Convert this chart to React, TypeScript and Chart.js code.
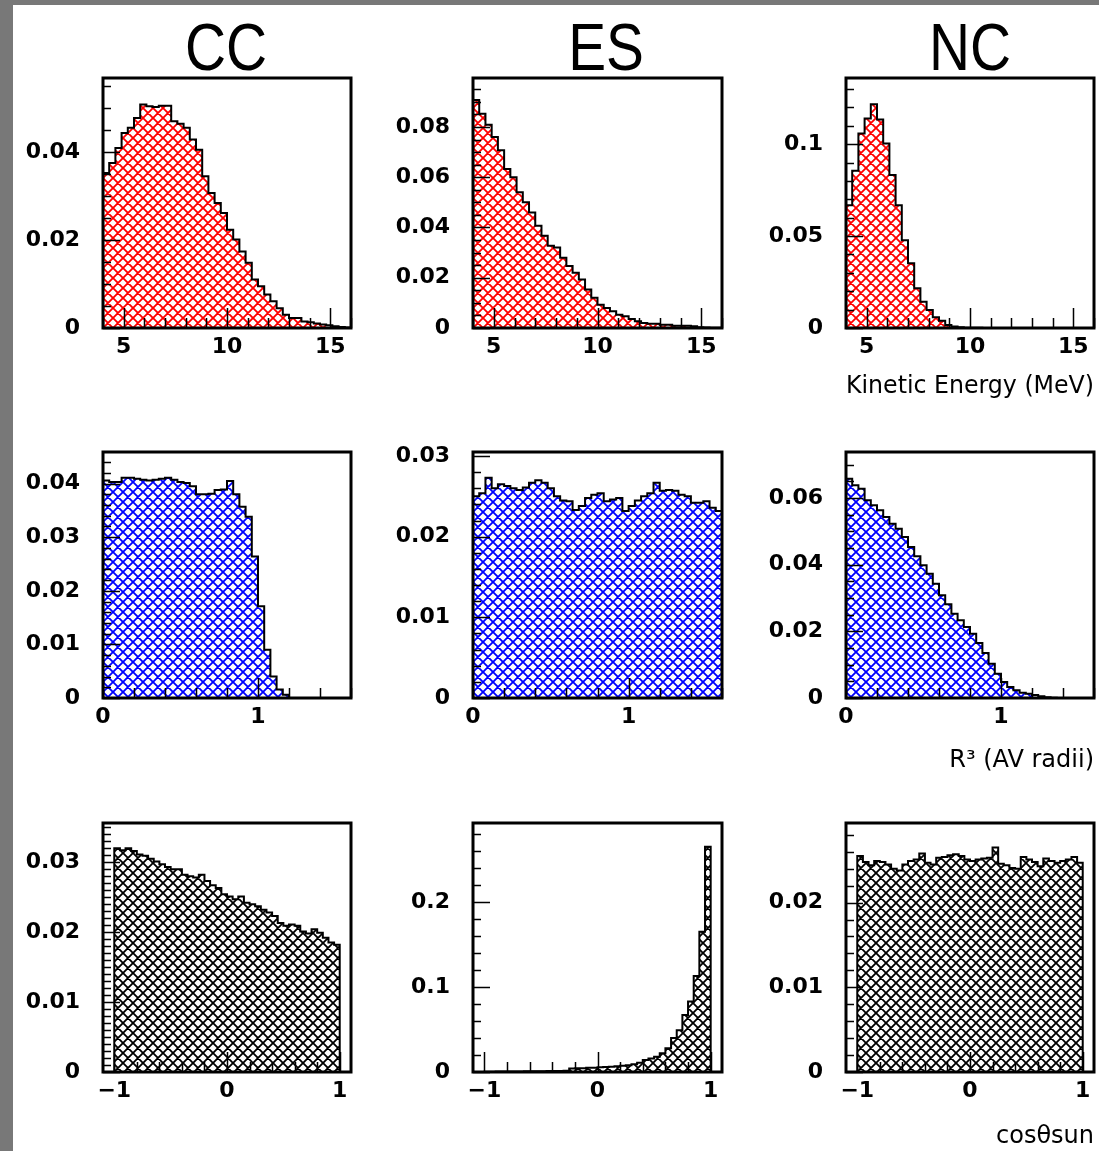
import React, { useEffect, useRef } from "react";
import { Chart, registerables } from "chart.js";

Chart.register(...registerables);

// ---- Histogram bin contents (40 bins each) ----
// Row 1: kinetic energy, 4–16 MeV
const ccEnergy = [0.0352, 0.0375, 0.0409, 0.0443, 0.0455, 0.0477, 0.0508, 0.0504, 0.0502, 0.0505, 0.0505, 0.047, 0.0464, 0.0455, 0.0428, 0.0405, 0.0345, 0.0307, 0.0284, 0.0261, 0.0223, 0.0201, 0.0174, 0.0148, 0.011, 0.0095, 0.0076, 0.0061, 0.0045, 0.003, 0.0023, 0.0023, 0.0015, 0.0013, 0.001, 0.0008, 0.0006, 0.0004, 0.0002, 0.0001];
const esEnergy = [0.0907, 0.0853, 0.0809, 0.076, 0.0707, 0.0633, 0.06, 0.054, 0.05, 0.046, 0.0407, 0.0367, 0.0327, 0.032, 0.028, 0.0247, 0.022, 0.0193, 0.0153, 0.012, 0.0093, 0.008, 0.0067, 0.0053, 0.0047, 0.0036, 0.0027, 0.002, 0.0017, 0.0017, 0.0013, 0.0013, 0.0009, 0.0009, 0.0009, 0.0007, 0.0003, 0.0002, 0.0001, 0.0001];
const ncEnergy = [0.0668, 0.0855, 0.1058, 0.114, 0.1217, 0.1134, 0.1004, 0.0832, 0.0668, 0.0478, 0.0352, 0.0216, 0.0143, 0.0098, 0.0058, 0.004, 0.0016, 0.0008, 0.0004, 0.0002, 0.0001, 0.0001, 0, 0, 0, 0, 0, 0, 0, 0, 0, 0, 0, 0, 0, 0, 0, 0, 0, 0];
// Row 2: R^3 in AV radii, 0–1.6
const ccRadius = [0.0406, 0.0403, 0.0403, 0.0411, 0.0411, 0.0409, 0.0407, 0.0406, 0.0407, 0.0409, 0.0411, 0.0407, 0.0403, 0.0401, 0.0395, 0.038, 0.038, 0.0381, 0.0388, 0.0389, 0.0405, 0.038, 0.0357, 0.0338, 0.0264, 0.0171, 0.009, 0.004, 0.0016, 0.0006, 0, 0, 0, 0, 0, 0, 0, 0, 0, 0];
const esRadius = [0.025, 0.0254, 0.0273, 0.026, 0.0265, 0.0263, 0.026, 0.0258, 0.0261, 0.0267, 0.027, 0.0267, 0.026, 0.025, 0.0245, 0.0244, 0.0233, 0.0238, 0.0248, 0.0252, 0.0254, 0.0244, 0.0246, 0.0248, 0.0232, 0.0238, 0.0245, 0.025, 0.0254, 0.0267, 0.0257, 0.0258, 0.0257, 0.0252, 0.025, 0.0242, 0.0242, 0.0244, 0.0236, 0.0232];
const ncRadius = [0.0658, 0.0638, 0.0628, 0.0593, 0.0578, 0.0563, 0.0543, 0.0523, 0.0508, 0.0483, 0.0453, 0.0425, 0.0398, 0.0373, 0.0343, 0.0308, 0.0281, 0.0253, 0.0233, 0.0213, 0.0193, 0.0165, 0.0135, 0.0103, 0.0073, 0.0048, 0.0033, 0.0023, 0.0016, 0.0013, 0.0009, 0.0005, 0.0002, 0.0001, 0, 0, 0, 0, 0, 0];
// Row 3: cos(theta_sun), -1–1
const ccCosSun = [0.032, 0.0317, 0.032, 0.0316, 0.0311, 0.0309, 0.0305, 0.0301, 0.0297, 0.0293, 0.029, 0.029, 0.0282, 0.028, 0.0278, 0.0282, 0.0273, 0.0267, 0.0263, 0.0254, 0.0251, 0.0247, 0.0251, 0.0242, 0.024, 0.0237, 0.0232, 0.0228, 0.0223, 0.0213, 0.0209, 0.0211, 0.0209, 0.0201, 0.0198, 0.0204, 0.0199, 0.0192, 0.0185, 0.0182];
const esCosSun = [0.0004, 0.0004, 0.0005, 0.0005, 0.0006, 0.0006, 0.0007, 0.0008, 0.0008, 0.0009, 0.001, 0.0011, 0.0012, 0.0013, 0.0015, 0.004, 0.0045, 0.0045, 0.005, 0.005, 0.0055, 0.006, 0.0063, 0.0068, 0.0075, 0.008, 0.009, 0.011, 0.014, 0.016, 0.018, 0.022, 0.028, 0.04, 0.049, 0.067, 0.083, 0.113, 0.165, 0.265];
const ncCosSun = [0.0255, 0.0248, 0.0244, 0.0249, 0.0248, 0.0245, 0.024, 0.0238, 0.0245, 0.0249, 0.0251, 0.0258, 0.0247, 0.0245, 0.0253, 0.0254, 0.0256, 0.0257, 0.0255, 0.0251, 0.0249, 0.0251, 0.0252, 0.0253, 0.0265, 0.0246, 0.0244, 0.0241, 0.024, 0.0254, 0.0251, 0.0248, 0.0243, 0.0252, 0.0249, 0.0247, 0.0249, 0.0251, 0.0254, 0.0247];

const columnTitles = ["CC", "ES", "NC"];
const rowAxisTitles = ["Kinetic Energy (MeV)", "R\u00b3 (AV radii)", "cos\u03b8sun"];
const energyBinRange = [4, 16];
const radiusBinRange = [0, 1.6];
const cosBinRange = [-1, 1];

// ---- layout / style ----
const LEFT_W = 100;
const PAD_T = 40;
const PAD_R = 6;
const BOTTOM_H = 75;

const ROWS = [
  { top: 78, bottom: 328, xMin: 4, xMax: 16, xMajor: 5, xMinor: 1, bins: energyBinRange, hatch: "#ff0000", titlePad: 2 },
  { top: 452, bottom: 698, xMin: 0, xMax: 1.6, xMajor: 1, xMinor: 0.2, bins: radiusBinRange, hatch: "#0000ff", titlePad: -2 },
  { top: 823, bottom: 1072, xMin: -1.1, xMax: 1.1, xMajor: 1, xMinor: 0.2, bins: cosBinRange, hatch: "#000000", titlePad: -4 },
];
const COLS = [
  { left: 103, right: 351, titleX: 226 },
  { left: 473, right: 722, titleX: 606 },
  { left: 846, right: 1094, titleX: 970 },
];
const PANELS = [
  [
    { values: ccEnergy, yMax: 0.0568, yMajor: 0.02, yMinor: 0.005 },
    { values: esEnergy, yMax: 0.0995, yMajor: 0.02, yMinor: 0.005 },
    { values: ncEnergy, yMax: 0.136, yMajor: 0.05, yMinor: 0.01 },
  ],
  [
    { values: ccRadius, yMax: 0.0459, yMajor: 0.01, yMinor: 0.002 },
    { values: esRadius, yMax: 0.0305, yMajor: 0.01, yMinor: 0.002 },
    { values: ncRadius, yMax: 0.0738, yMajor: 0.02, yMinor: 0.005 },
  ],
  [
    { values: ccCosSun, yMax: 0.0356, yMajor: 0.01, yMinor: 0.001 },
    { values: esCosSun, yMax: 0.293, yMajor: 0.1, yMinor: 0.02 },
    { values: ncCosSun, yMax: 0.0294, yMajor: 0.01, yMinor: 0.002 },
  ],
];

function makeHatch(color: string): CanvasPattern | string {
  const s = 10;
  const c = document.createElement("canvas");
  c.width = s;
  c.height = s;
  const g = c.getContext("2d");
  if (!g) return color;
  g.strokeStyle = color;
  g.lineWidth = 1.8;
  g.beginPath();
  for (let k = -1; k <= 1; k++) {
    g.moveTo(-2, -2 + k * s);
    g.lineTo(s + 2, s + 2 + k * s);
    g.moveTo(-2, s + 2 + k * s);
    g.lineTo(s + 2, -2 + k * s);
  }
  g.stroke();
  return g.createPattern(c, "repeat") ?? color;
}

function histPoints(values: number[], lo: number, hi: number) {
  const w = (hi - lo) / values.length;
  const pts: { x: number; y: number }[] = [{ x: lo, y: 0 }];
  values.forEach((v, i) => pts.push({ x: lo + i * w, y: v }));
  pts.push({ x: hi, y: 0 });
  return pts;
}

function fmt(v: number | string) {
  const n = Number(v);
  if (Math.abs(n) < 1e-12) return "0";
  const s = String(parseFloat(Math.abs(n).toPrecision(6)));
  return n < 0 ? "\u2212" + s : s;
}

const frameTicks = {
  id: "frameTicks",
  afterDatasetsDraw(chart: any, _args: any, opts: any) {
    const { ctx, chartArea: a, scales } = chart;
    const xs = scales.x;
    const ys = scales.y;
    ctx.save();
    ctx.strokeStyle = "#000";
    ctx.lineWidth = 1.5;
    ctx.beginPath();
    const each = (min: number, max: number, step: number, cb: (v: number) => void) => {
      const i0 = Math.ceil(min / step - 1e-6);
      for (let i = i0; i * step <= max + 1e-9; i++) cb(i * step);
    };
    each(xs.min, xs.max, opts.xMinor, (v) => {
      const p = Math.round(xs.getPixelForValue(v)) + 0.5;
      ctx.moveTo(p, a.bottom);
      ctx.lineTo(p, a.bottom - 10);
    });
    xs.ticks.forEach((t: any) => {
      const p = Math.round(xs.getPixelForValue(t.value)) + 0.5;
      ctx.moveTo(p, a.bottom);
      ctx.lineTo(p, a.bottom - 20);
    });
    each(ys.min, ys.max, opts.yMinor, (v) => {
      const p = Math.round(ys.getPixelForValue(v)) + 0.5;
      ctx.moveTo(a.left, p);
      ctx.lineTo(a.left + 8, p);
    });
    ys.ticks.forEach((t: any) => {
      const p = Math.round(ys.getPixelForValue(t.value)) + 0.5;
      ctx.moveTo(a.left, p);
      ctx.lineTo(a.left + 17, p);
    });
    ctx.stroke();
    ctx.lineWidth = 3;
    ctx.strokeRect(a.left, a.top, a.right - a.left, a.bottom - a.top);
    ctx.restore();
  },
};

function Panel({ r, c }: { r: number; c: number }) {
  const ref = useRef<HTMLCanvasElement | null>(null);
  const row = ROWS[r];
  const col = COLS[c];
  const p = PANELS[r][c];
  const width = LEFT_W + (col.right - col.left) + PAD_R;
  const height = PAD_T + (row.bottom - row.top) + BOTTOM_H;

  useEffect(() => {
    if (!ref.current) return;
    const tickFont = { family: "'DejaVu Sans', sans-serif", size: 22, weight: "bold" as const, lineHeight: 1.2 };
    const chart = new Chart(ref.current, {
      type: "line",
      data: {
        datasets: [
          {
            data: histPoints(p.values, row.bins[0], row.bins[1]),
            stepped: true,
            fill: "origin",
            backgroundColor: makeHatch(row.hatch) as any,
            borderColor: "#000",
            borderWidth: 2,
            pointRadius: 0,
            pointHoverRadius: 0,
          },
        ],
      },
      options: {
        responsive: false,
        animation: false,
        events: [],
        layout: { padding: { top: PAD_T, right: PAD_R, left: 0, bottom: 0 } },
        plugins: {
          legend: { display: false },
          tooltip: { enabled: false },
          frameTicks: { xMinor: row.xMinor, yMinor: p.yMinor },
        } as any,
        scales: {
          x: {
            type: "linear",
            min: row.xMin,
            max: row.xMax,
            grid: { display: false, drawTicks: false },
            border: { display: false },
            ticks: {
              stepSize: row.xMajor,
              padding: 6,
              color: "#000",
              font: tickFont,
              maxRotation: 0,
              autoSkip: false,
              includeBounds: false,
              callback: (v: any) => fmt(v),
            },
            title: {
              display: c === 2,
              text: rowAxisTitles[r],
              align: "end",
              color: "#000",
              font: { family: "'DejaVu Sans', sans-serif", size: 24, lineHeight: 1.2 },
              padding: { top: 0, bottom: row.titlePad },
            },
            afterFit: (s: any) => {
              s.height = BOTTOM_H;
            },
          },
          y: {
            type: "linear",
            min: 0,
            max: p.yMax,
            grid: { display: false, drawTicks: false },
            border: { display: false },
            ticks: {
              stepSize: p.yMajor,
              padding: 23,
              color: "#000",
              font: tickFont,
              autoSkip: false,
              includeBounds: false,
              callback: (v: any) => fmt(v),
            },
            afterFit: (s: any) => {
              s.width = LEFT_W;
            },
          },
        },
      } as any,
      plugins: [frameTicks as any],
    });
    return () => chart.destroy();
  }, [r, c]);

  return (
    <canvas
      ref={ref}
      width={width}
      height={height}
      style={{ position: "absolute", left: col.left - LEFT_W, top: row.top - PAD_T, width, height }}
    />
  );
}

export default function App() {
  return (
    <div
      style={{
        position: "absolute",
        left: 0,
        top: 0,
        width: 1099,
        height: 1151,
        background: "#787878",
        overflow: "hidden",
      }}
    >
      <div style={{ position: "absolute", left: 13, top: 5, right: 0, bottom: 0, background: "#ffffff" }} />
      {COLS.map((col, c) => (
        <div
          key={"t" + c}
          style={{
            position: "absolute",
            left: col.titleX - 100,
            top: 14,
            width: 200,
            textAlign: "center",
            fontFamily: "'Liberation Sans', Arial, sans-serif",
            fontSize: 66,
            lineHeight: "66px",
            color: "#000",
            transform: "scaleX(0.86)",
          }}
        >
          {columnTitles[c]}
        </div>
      ))}
      {ROWS.map((_, r) => COLS.map((__, c) => <Panel key={r + "-" + c} r={r} c={c} />))}
    </div>
  );
}
